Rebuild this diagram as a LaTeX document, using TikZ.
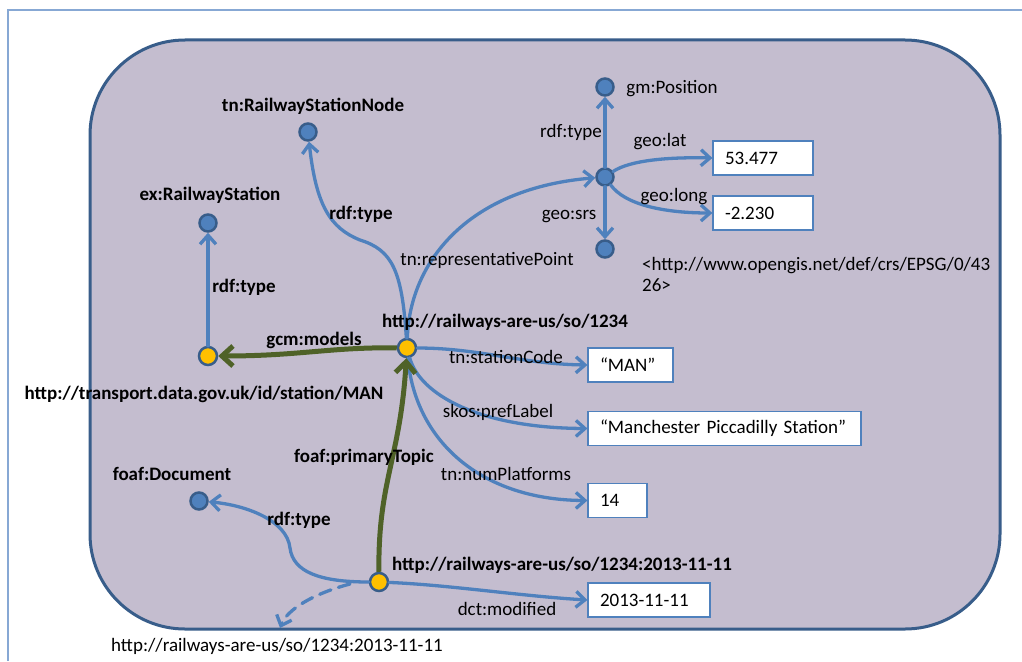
\documentclass[tikz,border=0pt]{standalone}
\usepackage{fontspec}
\setmainfont{Carlito}
\usetikzlibrary{arrows.meta}

\definecolor{edgeblue}{RGB}{79,129,189}
\definecolor{rimblue}{RGB}{56,93,138}
\definecolor{panel}{RGB}{196,189,207}
\definecolor{olive}{RGB}{79,98,40}
\definecolor{gold}{RGB}{255,192,0}
\definecolor{framecol}{RGB}{135,168,212}

\tikzset{
  res/.style={circle, fill=edgeblue, draw=rimblue, line width=2.5pt, minimum size=17pt, inner sep=0pt},
  lit/.style={circle, fill=gold, draw=rimblue, line width=2.5pt, minimum size=18pt, inner sep=0pt},
  valbox/.style={draw=edgeblue, fill=white, line width=1.2pt, minimum height=34pt,
    inner xsep=12pt, inner ysep=0pt, align=left, font=\fontsize{19}{22}\selectfont},
  rel/.style={draw=edgeblue, line width=3.3pt, line cap=round,
    -{Straight Barb[length=9pt, width=16pt, line width=3.3pt]}},
  prim/.style={draw=olive, line width=5pt,
    -{Straight Barb[length=11pt, width=20pt, line width=5pt]}},
  lbl/.style={inner sep=0pt, text height=12.5pt, text depth=0pt, font=\fontsize{19}{22}\selectfont},
  blbl/.style={lbl, font=\fontsize{19}{22}\selectfont\bfseries},
  para/.style={inner sep=0pt, align=left, font=\fontsize{19}{21}\selectfont},
}

\begin{document}
\begin{tikzpicture}[x=1pt, y=-1pt]
\useasboundingbox (0,0) rectangle (1022,661);
\fill[white] (0,0) rectangle (1022,661);

% page frame and graph panel
\draw[framecol, line width=1.3pt] (8,661) -- (8,10) -- (1022,10);
\draw[rimblue, fill=panel, line width=3pt, rounded corners=95pt] (90,40) rectangle (1000,629);

% resources
\node[res] (tnclass)   at (308,132) {};
\node[res] (exclass)   at (208,223) {};
\node[res] (foafclass) at (199,501) {};
\node[res] (pos)       at (605,177) {};
\node[res] (gmclass)   at (605,87)  {};
\node[res] (srs)       at (605,249) {};
\node[lit] (station)   at (407,348) {};
\node[lit] (man)       at (208,356) {};
\node[lit] (doc)       at (379,582) {};

% literal values
\node[valbox, text width=76pt]  (lat)  at (763,158)   {53.477};
\node[valbox, text width=76pt]  (long) at (763,213)   {-2.230};
\node[valbox, text width=61pt]  (code) at (630.5,365) {“MAN”};
\node[valbox, text width=249pt] (pref) at (724.5,428.5) {“Manchester Piccadilly Station”};
\node[valbox, text width=35pt]  (plat) at (617.5,500.5) {14};
\node[valbox, text width=98pt]  (mod)  at (649,600)   {2013-11-11};

% connectors
\draw[rel] (man) -- (exclass);
\draw[rel] (station) .. controls (402,270) and (392,250) .. (360,240)
                     .. controls (330,228) and (316,205) .. (tnclass);
\draw[rel] (station) .. controls (410,260) and (470,188) .. (pos);
\draw[rel] (pos) -- (gmclass);
\draw[rel] (pos) -- (srs);
\draw[rel] (pos) .. controls (630,160) and (670,157) .. (lat.west);
\draw[rel] (pos) .. controls (625,205) and (665,213) .. (long.west);
\draw[rel] (station) .. controls (480,348) and (520,364) .. (code.west);
\draw[rel] (station) .. controls (420,395) and (480,428) .. (pref.west);
\draw[rel] (station) .. controls (415,440) and (480,500) .. (plat.west);
\draw[rel] (doc) .. controls (450,585) and (520,596) .. (mod.west);
\draw[rel] (doc) .. controls (320,582) and (293,572) .. (290,548)
                 .. controls (287,520) and (245,505) .. (foafclass);
\draw[prim] (station) .. controls (330,347) and (300,356) .. (man);
\draw[prim] (doc) .. controls (378,480) and (400,460) .. (station);
\coordinate (docleft) at (350,584);
\coordinate (uriend) at (280,628);
\draw[rel, dash pattern=on 12pt off 8pt] (docleft) .. controls (312,594) and (287,610) .. (uriend);

% resource names
\node[blbl] (tnname)   at (313,105) {tn:RailwayStationNode};
\node[blbl] (exname)   at (210,194) {ex:RailwayStation};
\node[blbl] (stname)   at (505,321) {http://railways-are-us/so/1234};
\node[blbl] (manname)  at (204,393) {http://transport.data.gov.uk/id/station/MAN};
\node[blbl] (foafname) at (172,474) {foaf:Document};
\node[blbl] (docname)  at (562,564) {http://railways-are-us/so/1234:2013-11-11};
\node[lbl]  (gmname)   at (672,87)  {gm:Position};
\node[para, anchor=north west] (srsname) at (642,257) {<http://www.opengis.net/def/crs/EPSG/0/43\\26>};
\node[lbl]  (docuri)   at (277,645) {http://railways-are-us/so/1234:2013-11-11};

% property labels
\node[blbl] (l1) at (361,213) {rdf:type};
\node[blbl] (l2) at (244,286) {rdf:type};
\node[blbl] (l3) at (314,339) {gcm:models};
\node[blbl] (l4) at (364,456) {foaf:primaryTopic};
\node[blbl] (l5) at (299,519) {rdf:type};
\node[lbl]  (l6) at (487,259) {tn:representativePoint};
\node[lbl]  (l7) at (571,131) {rdf:type};
\node[lbl]  (l8) at (660,140) {geo:lat};
\node[lbl]  (l9) at (674,195) {geo:long};
\node[lbl]  (l10) at (569,213) {geo:srs};
\node[lbl]  (l11) at (506,357) {tn:stationCode};
\node[lbl]  (l12) at (498,411) {skos:prefLabel};
\node[lbl]  (l13) at (506,474) {tn:numPlatforms};
\node[lbl]  (l14) at (507,609) {dct:modified};
\end{tikzpicture}
\end{document}
